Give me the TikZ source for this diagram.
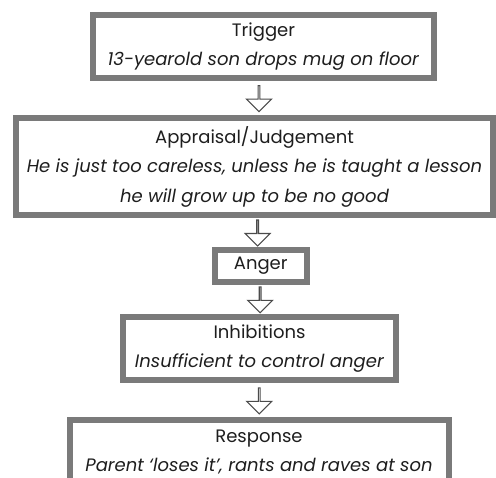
\documentclass[tikz,border=0pt]{standalone}
\usepackage{fontspec}
\setmainfont{Poppins}
\usetikzlibrary{shapes.arrows}

\definecolor{framegrey}{HTML}{7A7A7A}
\definecolor{ink}{HTML}{1E1E1E}

\tikzset{
  stage/.style={draw=framegrey, line width=6pt, rectangle, fill=white, align=center,
    text=ink, inner sep=0pt, font=\fontsize{18}{29.5}\selectfont},
  flow/.style={single arrow, draw=ink!80, fill=white, line width=1.1pt,
    shape border rotate=270, minimum height=26pt, minimum width=25pt,
    single arrow head extend=7pt, inner sep=0pt}
}

\begin{document}
\begin{tikzpicture}[x=1pt,y=-1pt]
\useasboundingbox (0,0) rectangle (496,478);
\clip (0,0) rectangle (496,478);

\node[stage, minimum width=341pt, minimum height=63.5pt] (trig) at (263.5,46.7)
  {Trigger\\\textit{13-yearold son drops mug on floor}};
\node[stage, minimum width=477pt, minimum height=97pt] (appr) at (254.5,166.5)
  {Appraisal/Judgement\\\textit{He is just too careless, unless he is taught a lesson}\\\textit{he will grow up to be no good}};
\node[stage, minimum width=91.5pt, minimum height=32pt] (anger) at (260.75,266) {Anger};
\node[stage, minimum width=273pt, minimum height=63.5pt] (inhib) at (259.5,348.5)
  {Inhibitions\\\textit{Insufficient to control anger}};
\node[stage, minimum width=379pt, minimum height=63.5pt] (resp) at (259,452.25)
  {Response\\\textit{Parent `loses it', rants and raves at son}};

\path (trig.south) -- node[flow] {} (appr.north);
\path (appr.south) -- node[flow] {} (anger.north);
\path (anger.south) -- node[flow] {} (inhib.north);
\path (inhib.south) -- node[flow] {} (resp.north);
\end{tikzpicture}
\end{document}
